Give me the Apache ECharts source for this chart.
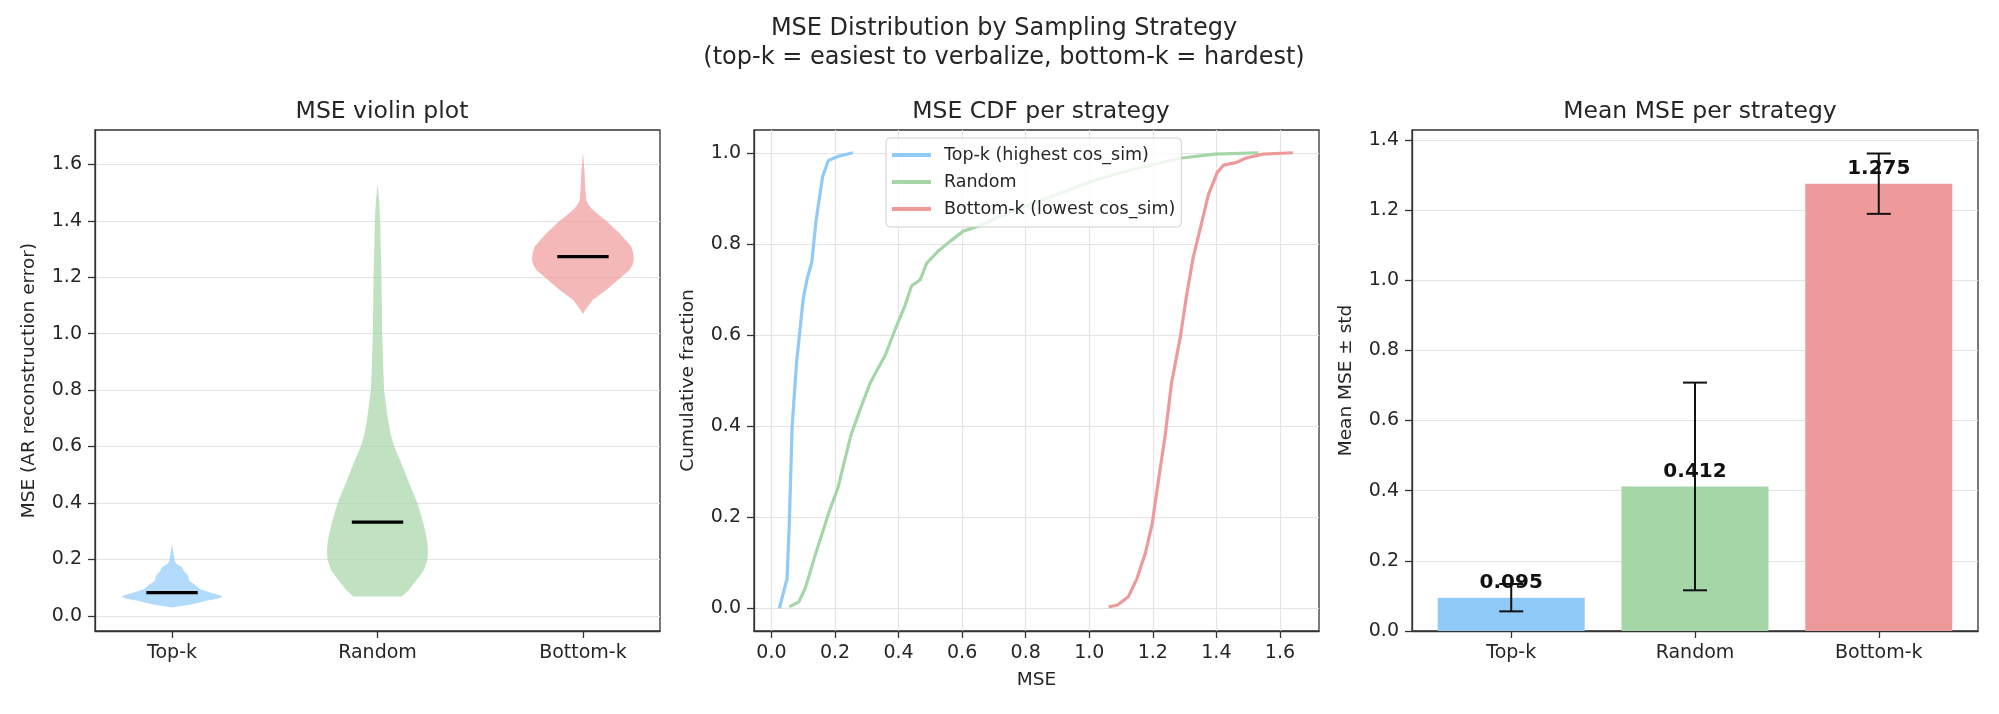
<!DOCTYPE html>
<html>
<head>
<meta charset="utf-8">
<title>MSE Distribution by Sampling Strategy</title>
<script src="https://cdn.jsdelivr.net/npm/echarts@6/dist/echarts.min.js"></script>
<style>
  html, body { margin: 0; padding: 0; background: #fff; }
  #chart { width: 1999px; height: 714px; }
</style>
</head>
<body>
<div id="chart"></div>
<script>
// categories / legend names
var strategies = ['Top-k', 'Random', 'Bottom-k'];
var legendNames = ['Top-k (highest cos_sim)', 'Random', 'Bottom-k (lowest cos_sim)'];
var colors = ['#90CAF9', '#A5D6A7', '#EF9A9A'];

// violin outlines: [mse, half width in category units]
var violinTopK = [[0.029,0],[0.033,0.03],[0.041,0.097],[0.047,0.134],[0.053,0.167],[0.059,0.215],
  [0.067,0.247],[0.072,0.235],[0.083,0.183],[0.095,0.134],[0.106,0.118],[0.124,0.083],[0.142,0.078],
  [0.160,0.057],[0.172,0.049],[0.184,0.021],[0.195,0.013],[0.219,0.008],[0.254,0]];
var violinRandom = [[0.068,0.118],[0.090,0.15],[0.115,0.178],[0.140,0.205],[0.163,0.227],[0.2,0.243],
  [0.23,0.246],[0.258,0.243],[0.29,0.235],[0.329,0.223],[0.4,0.194],[0.46,0.16],[0.515,0.13],
  [0.56,0.105],[0.6,0.081],[0.65,0.062],[0.706,0.049],[0.8,0.032],[0.9,0.027],[1.0,0.023],
  [1.1,0.021],[1.2,0.019],[1.3,0.016],[1.4,0.013],[1.47,0.008],[1.531,0]];
var violinBottomK = [[1.07,0],[1.085,0.012],[1.096,0.024],[1.12,0.049],[1.155,0.113],[1.19,0.17],
  [1.226,0.227],[1.245,0.242],[1.261,0.248],[1.285,0.245],[1.309,0.235],[1.356,0.178],[1.4,0.113],
  [1.425,0.07],[1.445,0.04],[1.46,0.025],[1.474,0.016],[1.52,0.011],[1.569,0.008],[1.642,0]];
var violinMedians = [0.082, 0.332, 1.273];

// CDF curves: [mse, cumulative fraction]
var cdfTopK = [[0.025,0],[0.049,0.065],[0.056,0.185],[0.065,0.4],[0.079,0.54],[0.1,0.68],
  [0.113,0.726],[0.127,0.76],[0.14,0.85],[0.161,0.948],[0.179,0.983],[0.209,0.992],[0.256,1.0]];
var cdfRandom = [[0.056,0.003],[0.086,0.014],[0.106,0.043],[0.14,0.122],[0.181,0.211],[0.209,0.264],
  [0.25,0.38],[0.284,0.446],[0.311,0.495],[0.359,0.557],[0.393,0.619],[0.42,0.664],[0.441,0.708],
  [0.468,0.721],[0.488,0.757],[0.523,0.783],[0.563,0.806],[0.604,0.828],[0.659,0.841],[0.741,0.868],
  [0.877,0.903],[1.014,0.939],[1.15,0.966],[1.286,0.988],[1.395,0.997],[1.532,1.0]];
var cdfBottomK = [[1.061,0.003],[1.089,0.007],[1.123,0.025],[1.15,0.065],[1.177,0.122],[1.198,0.185],
  [1.218,0.282],[1.239,0.38],[1.259,0.495],[1.286,0.593],[1.307,0.69],[1.327,0.77],[1.355,0.85],
  [1.375,0.908],[1.403,0.957],[1.423,0.973],[1.464,0.979],[1.491,0.988],[1.546,0.997],[1.641,1.0]];

// mean and std per strategy
var meanMse = [0.095, 0.412, 1.275];
var stdMse = [0.039, 0.296, 0.086];

// tick values
var violinTicks = [0, 0.2, 0.4, 0.6, 0.8, 1.0, 1.2, 1.4, 1.6];
var cdfXTicks = [0, 0.2, 0.4, 0.6, 0.8, 1.0, 1.2, 1.4, 1.6];
var cdfYTicks = [0, 0.2, 0.4, 0.6, 0.8, 1.0];
var barTicks = [0, 0.2, 0.4, 0.6, 0.8, 1.0, 1.2, 1.4];
var catTicks = [0, 1, 2];

var violinProfiles = [violinTopK, violinRandom, violinBottomK];
var cdfs = [cdfTopK, cdfRandom, cdfBottomK];

var FONT = 'DejaVu Sans';
var TXT = '#262626';

function fmt1(v) { return v.toFixed(1); }
function catName(v) { return strategies[Math.round(v)]; }

function valueAxis(grid, min, max, ticks, formatter, splitShow, extra) {
  var ax = {
    type: 'value', gridIndex: grid, min: min, max: max,
    axisLine: { show: true, onZero: false, lineStyle: { color: '#333', width: 1.3 } },
    axisTick: { show: true, inside: false, length: 7, customValues: ticks, lineStyle: { color: '#333', width: 1.3 } },
    axisLabel: { customValues: ticks, formatter: formatter, color: TXT, fontSize: 19, fontFamily: FONT, margin: 13 },
    splitLine: { show: splitShow, lineStyle: { color: '#e4e4e4', width: 1.2 } },
    nameTextStyle: { color: TXT, fontSize: 18.5, fontFamily: FONT },
    nameLocation: 'middle'
  };
  for (var k in extra) ax[k] = extra[k];
  return ax;
}

var chart = echarts.init(document.getElementById('chart'));

var gridBox = { show: true, borderColor: '#333', borderWidth: 1.3, backgroundColor: 'transparent' };
var grids = [
  Object.assign({ left: 95, top: 130, width: 565, height: 501 }, gridBox),
  Object.assign({ left: 754, top: 130, width: 565, height: 501 }, gridBox),
  Object.assign({ left: 1412, top: 130, width: 566, height: 501 }, gridBox)
];

function renderViolin(params, api) {
  var i = api.value(0);
  var prof = violinProfiles[i];
  var right = prof.map(function (p) { return api.coord([i + p[1], p[0]]); });
  var left = prof.slice().reverse().map(function (p) { return api.coord([i - p[1], p[0]]); });
  var m0 = api.coord([i - 0.125, violinMedians[i]]);
  var m1 = api.coord([i + 0.125, violinMedians[i]]);
  return {
    type: 'group',
    children: [
      { type: 'polygon', shape: { points: right.concat(left) }, style: { fill: colors[i], opacity: 0.7 } },
      { type: 'line', shape: { x1: m0[0], y1: m0[1], x2: m1[0], y2: m1[1] }, style: { stroke: '#000', lineWidth: 3.2 } }
    ]
  };
}

function renderErrorBar(params, api) {
  var x = api.value(0);
  var lo = api.coord([x, api.value(1)]);
  var hi = api.coord([x, api.value(2)]);
  var cap = 12;
  var st = { stroke: '#111', lineWidth: 2 };
  return {
    type: 'group',
    children: [
      { type: 'line', shape: { x1: lo[0], y1: lo[1], x2: hi[0], y2: hi[1] }, style: st },
      { type: 'line', shape: { x1: lo[0] - cap, y1: lo[1], x2: lo[0] + cap, y2: lo[1] }, style: st },
      { type: 'line', shape: { x1: hi[0] - cap, y1: hi[1], x2: hi[0] + cap, y2: hi[1] }, style: st }
    ]
  };
}

var series = [];

series.push({
  type: 'custom', name: 'violin', xAxisIndex: 0, yAxisIndex: 0,
  renderItem: renderViolin,
  data: strategies.map(function (s, i) { return [i]; }),
  silent: true
});

for (var c = 0; c < 3; c++) {
  series.push({
    type: 'line', name: legendNames[c], xAxisIndex: 1, yAxisIndex: 1,
    data: cdfs[c], showSymbol: false, symbol: 'none',
    lineStyle: { color: colors[c], width: 3.2 },
    itemStyle: { color: colors[c] },
    z: 3
  });
}

series.push({
  type: 'bar', name: 'mean', xAxisIndex: 2, yAxisIndex: 2,
  barWidth: 147,
  data: meanMse.map(function (m, i) {
    return { value: [i, m], itemStyle: { color: colors[i] } };
  }),
  label: {
    show: true, position: 'top', distance: 5,
    formatter: function (p) { return p.value[1].toFixed(3); },
    fontSize: 20, fontWeight: 'bold', fontFamily: FONT, color: '#111'
  }
});

series.push({
  type: 'custom', name: 'std', xAxisIndex: 2, yAxisIndex: 2,
  renderItem: renderErrorBar,
  data: meanMse.map(function (m, i) { return [i, m - stdMse[i], m + stdMse[i]]; }),
  z: 4, silent: true
});

var titleStyle = { fontSize: 23.5, fontWeight: 'normal', color: TXT, fontFamily: FONT };

var option = {
  backgroundColor: '#fff',
  animation: false,
  textStyle: { fontFamily: FONT },
  title: [
    {
      text: 'MSE Distribution by Sampling Strategy\n(top-k = easiest to verbalize, bottom-k = hardest)',
      left: 999, top: 9, textAlign: 'center',
      textStyle: { fontSize: 24, fontWeight: 'normal', color: TXT, fontFamily: FONT, lineHeight: 29 }
    },
    { text: 'MSE violin plot', left: 377, top: 95, textAlign: 'center', textStyle: titleStyle },
    { text: 'MSE CDF per strategy', left: 1036, top: 95, textAlign: 'center', textStyle: titleStyle },
    { text: 'Mean MSE per strategy', left: 1695, top: 95, textAlign: 'center', textStyle: titleStyle }
  ],
  legend: {
    data: legendNames,
    orient: 'vertical',
    left: 886, top: 138,
    icon: 'rect', itemWidth: 39, itemHeight: 4, itemGap: 7,
    padding: [7, 6, 8, 6],
    backgroundColor: 'rgba(255,255,255,0.8)',
    borderColor: '#d0d0d0', borderWidth: 1, borderRadius: 4,
    textStyle: { fontSize: 17.5, color: TXT, fontFamily: FONT, lineHeight: 20, padding: [0, 0, 0, 8] }
  },
  grid: grids,
  xAxis: [
    valueAxis(0, -0.375, 2.375, catTicks, catName, false, {}),
    valueAxis(1, -0.055, 1.723, cdfXTicks, fmt1, true, { name: 'MSE', nameGap: 40 }),
    valueAxis(2, -0.54, 2.54, catTicks, catName, false, {})
  ],
  yAxis: [
    valueAxis(0, -0.054, 1.722, violinTicks, fmt1, true, { name: 'MSE (AR reconstruction error)', nameGap: 56 }),
    valueAxis(1, -0.05, 1.05, cdfYTicks, fmt1, true, { name: 'Cumulative fraction', nameGap: 56 }),
    valueAxis(2, 0, 1.428, barTicks, fmt1, true, { name: 'Mean MSE \u00b1 std', nameGap: 56 })
  ],
  series: series
};

chart.setOption(option);
</script>
</body>
</html>
